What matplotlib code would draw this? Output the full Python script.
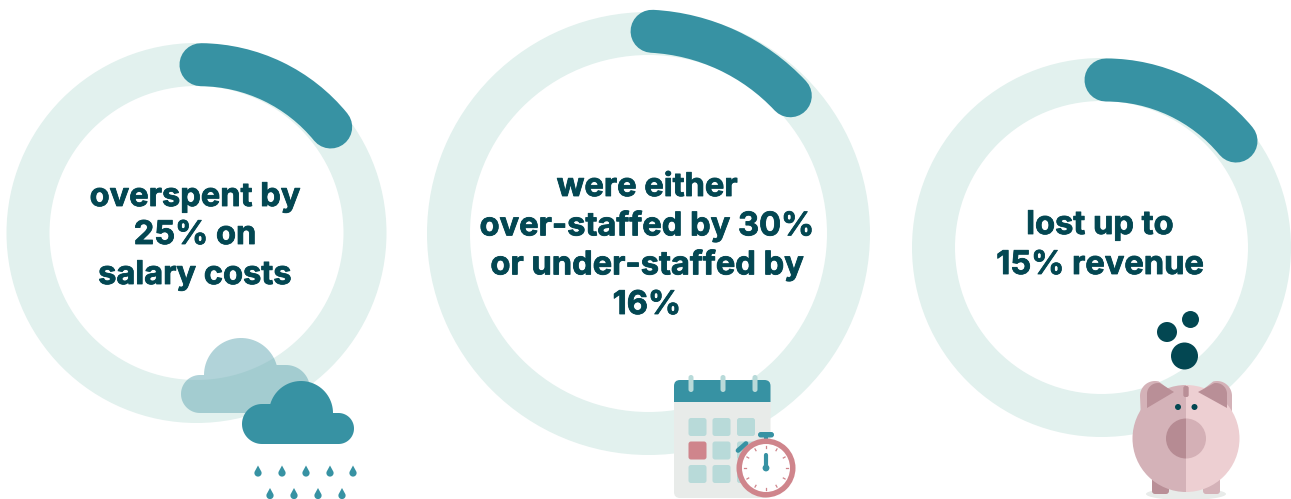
import numpy as np
import matplotlib
matplotlib.use("Agg")
import matplotlib.pyplot as plt
import matplotlib.patheffects as pe
from matplotlib.patches import Arc, Circle, Ellipse, FancyBboxPatch, Polygon, Rectangle, Wedge

# Ring geometry
ring_x = [196.5, 648.5, 1101.5]
ring_y = [233, 233.5, 247.5]
ring_radius = [168.5, 200, 168]

# Highlighted arcs sit a little off-centre; angles are clockwise from 12 o'clock
arc_x = [199.5, 641, 1106]
arc_y = [234, 235.5, 249]
arc_radius = [169.3, 204.5, 169]
arc_start = [0.5, 3.1, 0]
arc_end = [50.8, 46.9, 50.3]

ring_lines = [
    ["overspent by", "25% on", "salary costs"],
    ["were either", "over-staffed by 30%", "or under-staffed by", "16%"],
    ["lost up to", "15% revenue"],
]
line_y = [
    [197.5, 235.5, 275.5],
    [187.5, 226.5, 265.5, 305.5],
    [225.5, 265.5],
]

TEAL = "#3792a3"
PALE = "#e2f1ee"
DARK = "#034752"
PINK = "#cf858c"
CELL = "#b8dad9"
GREY = "#e8ebe9"
ROSE_D = "#b98f97"
ROSE_M = "#d4b2b8"
ROSE_L = "#edcfd2"


def arc_pts(cx, cy, r, a0, a1, n=40):
    a = np.radians(np.linspace(a0, a1, n))
    return np.column_stack([cx + r * np.cos(a), cy + r * np.sin(a)])


def draw_cloud(ax, x0, x1, bottom, r_left, r_right, dome_x, dome_y, dome_r, **kw):
    """Single outline so a translucent fill does not double up where lobes meet."""
    left = arc_pts(x0 + r_left, bottom - r_left, r_left, 90, 270)
    right = arc_pts(x1 - r_right, bottom - r_right, r_right, -90, 90)
    # dome runs between the tops of the two side lobes
    dy_l = dome_y - (bottom - 2 * r_left)
    dy_r = dome_y - (bottom - 2 * r_right)
    a_l = 180 + np.degrees(np.arcsin(np.clip(dy_l / dome_r, -1, 1)))
    a_r = 360 - np.degrees(np.arcsin(np.clip(dy_r / dome_r, -1, 1)))
    dome = arc_pts(dome_x, dome_y, dome_r, a_l, a_r)
    ax.add_patch(Polygon(np.vstack([left, dome, right]), closed=True, lw=0, **kw))


def draw_drop(ax, x, y):
    body = arc_pts(x, y + 2, 3.6, -25, 205)
    ax.add_patch(Polygon(np.vstack([[x, y - 5.5], body]), closed=True, fc=TEAL, lw=0, zorder=5))


def rounded(ax, x, y, w, h, r, color, z=5):
    ax.add_patch(FancyBboxPatch((x + r, y + r), w - 2 * r, h - 2 * r,
                                boxstyle=f"round,pad={r},rounding_size={r}",
                                fc=color, lw=0, zorder=z))


def draw_weather(ax):
    draw_cloud(ax, 181, 310, 413, 19, 24, 241, 375, 37, fc="#6aabb6", alpha=0.52, zorder=3)
    draw_cloud(ax, 242, 354, 444, 20, 15.5, 301, 413, 32, fc=TEAL, zorder=4)
    for x in [258, 282, 306, 330, 353]:
        draw_drop(ax, x, 471)
    for x in [270, 294, 318, 342]:
        draw_drop(ax, x, 493.5)


def draw_calendar(ax):
    rounded(ax, 674, 385, 96.5, 113, 6, GREY, z=3)
    rounded(ax, 674, 380, 96.5, 30, 6, TEAL, z=4)
    ax.add_patch(Rectangle((674, 402), 96.5, 10, fc=GREY, lw=0, zorder=4))
    for x in [691, 723, 755]:
        rounded(ax, x - 2.5, 375, 5, 17, 2.5, CELL)
    for i, y in enumerate([418, 441.5, 465]):
        for j, x in enumerate([688.5, 712.5, 737]):
            rounded(ax, x, y, 18, 18, 2.5, PINK if (i, j) == (1, 0) else CELL)

    # stopwatch in front of the calendar page
    cx, cy = 766, 468
    ax.plot([738, 746], [450.5, 443.5], color=TEAL, lw=3.4, solid_capstyle="round", zorder=6)
    rounded(ax, 758, 432, 16, 5.5, 2.7, TEAL, z=6)
    ax.add_patch(Rectangle((764, 436), 4, 5, fc=TEAL, lw=0, zorder=6))
    ax.add_patch(Circle((cx, cy), 29.5, fc=PINK, lw=0, zorder=7))
    ax.add_patch(Circle((cx, cy), 24, fc="white", lw=0, zorder=8))
    for a in np.arange(0, 360, 30):
        p = arc_pts(cx, cy, 22, a, a, 1)[0]
        q = arc_pts(cx, cy, 20, a, a, 1)[0]
        ax.plot([p[0], q[0]], [p[1], q[1]], color=PINK, lw=0.9, zorder=9)
    ax.plot([cx, cx], [468, 455], color=TEAL, lw=3, solid_capstyle="round", zorder=10)
    ax.add_patch(Circle((cx, cy), 3.4, fc=TEAL, lw=0, zorder=10))


def draw_pig(ax):
    cx, cy = 1186, 438.5
    ax.add_patch(Ellipse((cx, 494), 80, 12, fc=GREY, lw=0, zorder=3))
    rounded(ax, 1152, 470, 17, 24, 3, ROSE_D, z=4)
    rounded(ax, 1203, 470, 17, 24, 3, ROSE_M, z=4)

    # ears: outer flap with the darker inner shape on top
    ax.add_patch(Polygon(np.vstack([[1141, 420], arc_pts(1155, 396, 15, 180, 285), [1176, 395]]),
                         closed=True, fc=ROSE_M, lw=0, zorder=4))
    ax.add_patch(Polygon(np.vstack([[1147, 408], arc_pts(1158, 394, 11, 180, 280), [1174, 392]]),
                         closed=True, fc=ROSE_D, lw=0, zorder=6))
    ax.add_patch(Polygon(np.vstack([[1196, 395], arc_pts(1217, 396, 15, -105, 0), [1232, 420]]),
                         closed=True, fc=ROSE_M, lw=0, zorder=4))
    ax.add_patch(Polygon(np.vstack([[1198, 392], arc_pts(1216, 394, 11, -100, 0), [1227, 408]]),
                         closed=True, fc=ROSE_D, lw=0, zorder=6))

    ax.add_patch(Wedge((cx, cy), 53.5, 90, 270, fc=ROSE_M, lw=0, zorder=5))
    ax.add_patch(Wedge((cx, cy), 53.5, -90, 90, fc=ROSE_L, lw=0, zorder=5))
    ax.add_patch(Wedge((cx, cy), 20, 90, 270, fc="#b68b93", lw=0, zorder=6))
    ax.add_patch(Wedge((cx, cy), 20, -90, 90, fc="#d4b0b6", lw=0, zorder=6))
    rounded(ax, cx - 2.7, 386, 5.4, 11, 2, ROSE_D, z=6)
    for x in [1178, 1194.5]:
        ax.add_patch(Circle((x, 407), 3, fc=DARK, lw=0, zorder=7))
    for x, y, r in [(1167, 332, 10), (1190.5, 319.5, 8.5), (1184.5, 356, 13.5)]:
        ax.add_patch(Circle((x, y), r, fc=DARK, lw=0, zorder=7))


fig = plt.figure(figsize=(12.91, 4.99), dpi=100)
ax = fig.add_axes([0, 0, 1, 1])
ax.set_xlim(0, 1291)
ax.set_ylim(499, 0)
ax.axis("off")

px = 72 / fig.dpi
for i in range(3):
    ax.add_patch(Circle((ring_x[i], ring_y[i]), ring_radius[i], fill=False, ec=PALE, lw=43 * px, zorder=1))
    ax.add_patch(Arc((arc_x[i], arc_y[i]), 2 * arc_radius[i], 2 * arc_radius[i],
                     theta1=arc_start[i] - 90, theta2=arc_end[i] - 90,
                     ec=TEAL, lw=43 * px, capstyle="round", zorder=2))
    for line, y in zip(ring_lines[i], line_y[i]):
        ax.text(ring_x[i] - 1.5, y, line, ha="center", va="center", color=DARK,
                fontsize=23.5, fontweight="bold", family="Inter", zorder=5,
                path_effects=[pe.withStroke(linewidth=0.6, foreground=DARK)])

draw_weather(ax)
draw_calendar(ax)
draw_pig(ax)

fig.savefig("out.png", dpi=100, facecolor="white")
